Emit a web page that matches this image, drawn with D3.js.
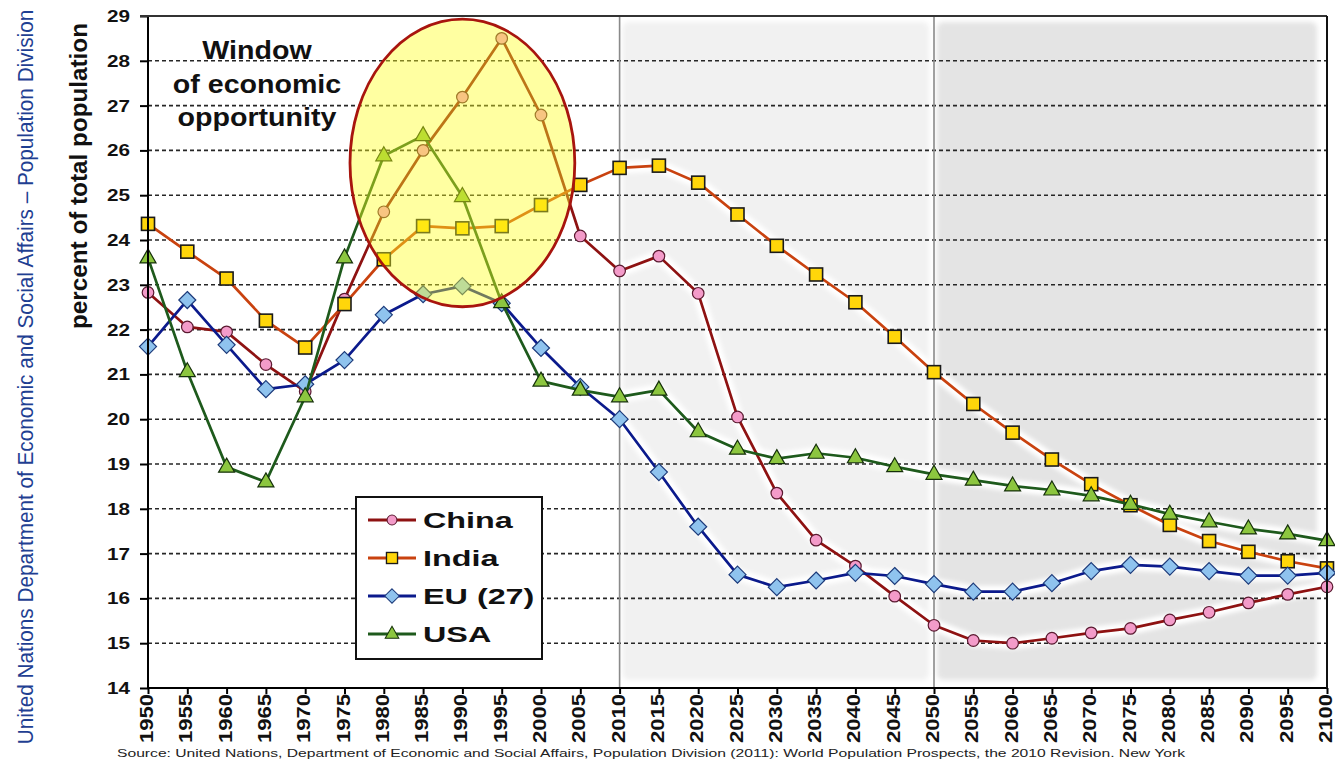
<!DOCTYPE html>
<html>
<head>
<meta charset="utf-8">
<script src="https://cdn.jsdelivr.net/npm/d3@7"></script>
<style>
  html,body{margin:0;padding:0;background:#fff;}
  svg{display:block;}
  text{font-family:"Liberation Sans",Arial,sans-serif;}
</style>
</head>
<body>
<svg id="chart" width="1335" height="763"></svg>
<script>
/* ==========================================================================
   Share of population aged 15-24 (percent of total), 1950-2100.
   Values.
   ========================================================================== */

const years = [1950,1955,1960,1965,1970,1975,1980,1985,1990,1995,2000,2005,2010,2015,2020,
               2025,2030,2035,2040,2045,2050,2055,2060,2065,2070,2075,2080,2085,2090,2095,2100];

const china = [22.83,22.06,21.95,21.22,20.62,22.68,24.63,26.00,27.19,28.50,26.79,24.09,23.31,23.64,22.81,
               20.05,18.35,17.30,16.72,16.05,15.40,15.06,15.00,15.11,15.23,15.33,15.52,15.69,15.90,16.09,16.26];
const india = [24.36,23.74,23.14,22.20,21.60,22.57,23.57,24.31,24.26,24.31,24.78,25.23,25.61,25.66,25.28,
               24.57,23.87,23.23,22.61,21.84,21.05,20.34,19.70,19.10,18.55,18.08,17.64,17.28,17.04,16.83,16.67];
const eu27  = [21.62,22.66,21.66,20.67,20.78,21.32,22.33,22.79,22.97,22.59,21.59,20.72,20.00,18.82,17.60,
               16.53,16.25,16.40,16.57,16.50,16.32,16.15,16.15,16.34,16.61,16.75,16.71,16.61,16.51,16.51,16.57];
const usa   = [23.60,21.06,18.93,18.60,20.50,23.60,25.88,26.33,24.97,22.60,20.85,20.65,20.50,20.65,19.72,
               19.33,19.12,19.24,19.14,18.94,18.77,18.64,18.51,18.42,18.29,18.10,17.88,17.71,17.55,17.44,17.29];

const seriesNames = ["China","India","EU (27)","USA"];
const yTicks = [14,15,16,17,18,19,20,21,22,23,24,25,26,27,28,29];
const periodBreaks = [2010,2050];          // projection periods (shaded)
const windowLines = ["Window","of economic","opportunity"];

const yTitle = "percent of total population";
const sideTitle = "United Nations Department of Economic and Social Affairs \u2013 Population Division";
const sourceText = "Source: United Nations, Department of Economic and Social Affairs, Population Division (2011): World Population Prospects, the 2010 Revision. New York";

/* ----- look of each series ----- */
const styles = [
  { values: china, line:"#8e1212", fill:"#f39bc9", stroke:"#5a1a30", shape:"circle" },
  { values: india, line:"#c9420f", fill:"#ffd60a", stroke:"#1a1a1a", shape:"square" },
  { values: eu27,  line:"#0b1a8c", fill:"#8fc3ee", stroke:"#1c3a7a", shape:"diamond" },
  { values: usa,   line:"#1e5a1c", fill:"#8cc63f", stroke:"#15300a", shape:"triangle" }
];

const svg = d3.select("#chart");
const W = 1335, H = 763;
const m = { left:148, right:1327, top:16, bottom:688 };

const x = d3.scaleLinear().domain([1950,2100]).range([m.left, m.right]);
const y = d3.scaleLinear().domain([14,29]).range([m.bottom, m.top]);

svg.append("rect").attr("width",W).attr("height",H).attr("fill","#fff");

const defs = svg.append("defs");
defs.append("filter").attr("id","soft").attr("x","-5%").attr("y","-5%").attr("width","110%").attr("height","110%")
  .append("feGaussianBlur").attr("stdDeviation",2.5);
defs.append("filter").attr("id","halo").attr("x","-5%").attr("y","-20%").attr("width","110%").attr("height","140%")
  .append("feGaussianBlur").attr("stdDeviation",2.2);

/* ----- shaded projection periods ----- */
const shade = svg.append("g");
shade.append("rect")
  .attr("x", x(periodBreaks[0]) + 3).attr("y", m.top + 6)
  .attr("width", x(periodBreaks[1]) - x(periodBreaks[0]) - 8)
  .attr("height", m.bottom - m.top - 14)
  .attr("rx",6).attr("fill","#f1f1f1").attr("filter","url(#soft)");
shade.append("rect")
  .attr("x", x(periodBreaks[1]) + 3).attr("y", m.top + 6)
  .attr("width", x(2100) - x(periodBreaks[1]) - 13)
  .attr("height", m.bottom - m.top - 14)
  .attr("rx",6).attr("fill","#e4e4e4").attr("filter","url(#soft)");

const lineGen = d3.line().x((d,i) => x(years[i])).y(d => y(d));

/* white glow round the lines (visible on the grey) */
svg.append("g").selectAll("path")
  .data(styles).enter().append("path")
  .attr("d", s => lineGen(s.values))
  .attr("fill","none").attr("stroke","#fff").attr("stroke-width",12)
  .attr("stroke-linejoin","round").attr("opacity",1)
  .attr("filter","url(#halo)");

/* ----- dashed gridlines ----- */
svg.append("g").selectAll("line")
  .data(yTicks.filter(v => v > 14 && v < 29)).enter().append("line")
  .attr("x1", m.left).attr("x2", m.right)
  .attr("y1", d => y(d)).attr("y2", d => y(d))
  .attr("stroke","#262626").attr("stroke-width",1.6).attr("stroke-dasharray","4,3");

/* period dividers */
svg.append("g").selectAll("line")
  .data(periodBreaks).enter().append("line")
  .attr("x1", d => x(d)).attr("x2", d => x(d))
  .attr("y1", m.top).attr("y2", m.bottom)
  .attr("stroke","#8a8a8a").attr("stroke-width",1.6);

/* ----- series ----- */
function marker(sel, s){
  if(s.shape === "circle"){
    sel.append("circle").attr("r",5.8);
  } else if(s.shape === "square"){
    sel.append("rect").attr("x",-6.5).attr("y",-6.5).attr("width",13).attr("height",13);
  } else if(s.shape === "diamond"){
    sel.append("path").attr("d","M0,-8.5L8.5,0L0,8.5L-8.5,0Z");
  } else {
    sel.append("path").attr("d","M0,-9L8,5L-8,5Z");
  }
  sel.selectAll("*").attr("fill", s.fill).attr("stroke", s.stroke)
    .attr("stroke-width", s.shape === "square" ? 1.6 : 1.2);
}

styles.forEach(s => {
  const g = svg.append("g");
  g.append("path")
    .attr("d", lineGen(s.values))
    .attr("fill","none").attr("stroke", s.line).attr("stroke-width",2.7)
    .attr("stroke-linejoin","round");
  g.selectAll("g.pt").data(s.values).enter().append("g")
    .attr("class","pt")
    .attr("transform", (d,i) => "translate(" + x(years[i]) + "," + y(d) + ")")
    .each(function(){ marker(d3.select(this), s); });
});

/* ----- "window of economic opportunity" ellipse ----- */
const ell = { year:1990, value:25.72, spanYears:14.3, spanValue:3.21 };
svg.append("ellipse")
  .attr("cx", x(ell.year)).attr("cy", y(ell.value))
  .attr("rx", x(ell.year + ell.spanYears) - x(ell.year))
  .attr("ry", y(ell.value - ell.spanValue) - y(ell.value))
  .attr("fill","#ffff20").attr("fill-opacity",0.42)
  .attr("stroke","#a8150e").attr("stroke-width",2.8);

const ann = svg.append("g");
windowLines.forEach((t,i) => {
  ann.append("text")
    .attr("transform","translate(257," + (59 + i*33.5) + ") scale(1.1,1)")
    .attr("text-anchor","middle")
    .attr("font-size",26).attr("font-weight","bold").attr("fill","#111")
    .text(t);
});

/* ----- axes and frame ----- */
const yAxis = d3.axisLeft(y).tickValues(yTicks).tickSize(8).tickFormat("");
svg.append("g").attr("transform","translate(" + m.left + ",0)").call(yAxis)
  .call(g => g.selectAll("line,path").attr("stroke","#000").attr("stroke-width",2))
  .call(g => g.select(".domain").attr("d","M0," + m.top + "V" + m.bottom));

const xAxis = d3.axisBottom(x).tickValues(years).tickSize(6).tickFormat("");
svg.append("g").attr("transform","translate(0," + m.bottom + ")").call(xAxis)
  .call(g => g.selectAll("line,path").attr("stroke","#000").attr("stroke-width",2))
  .call(g => g.select(".domain").attr("d","M" + m.left + ",0H" + m.right));

svg.append("line").attr("x1",m.left - 8).attr("x2",m.right).attr("y1",m.top).attr("y2",m.top)
  .attr("stroke","#333").attr("stroke-width",2);
svg.append("line").attr("x1",m.right).attr("x2",m.right).attr("y1",m.top).attr("y2",m.bottom)
  .attr("stroke","#111").attr("stroke-width",2);

/* tick labels */
svg.append("g").selectAll("text")
  .data(yTicks).enter().append("text")
  .attr("x",130).attr("y", d => y(d) + 6)
  .attr("text-anchor","end")
  .attr("font-size",17).attr("font-weight","bold").attr("fill","#111")
  .attr("textLength",23).attr("lengthAdjust","spacingAndGlyphs")
  .text(d => d);

svg.append("g").selectAll("text")
  .data(years).enter().append("text")
  .attr("transform", d => "translate(" + (x(d) + 5) + ",694) rotate(-90)")
  .attr("text-anchor","end")
  .attr("font-size",18).attr("font-weight","bold").attr("fill","#111")
  .attr("textLength",49).attr("lengthAdjust","spacingAndGlyphs")
  .text(d => d);

/* ----- legend ----- */
const leg = svg.append("g");
leg.append("rect").attr("x",356).attr("y",497).attr("width",186).attr("height",162)
  .attr("fill","#fff").attr("stroke","#111").attr("stroke-width",2);
styles.forEach((s,i) => {
  const cy = 520 + i*38;
  const row = leg.append("g");
  row.append("line").attr("x1",368).attr("x2",416).attr("y1",cy).attr("y2",cy)
    .attr("stroke", s.line).attr("stroke-width",3);
  const mk = row.append("g");
  marker(mk, s);
  mk.attr("transform","translate(392," + cy + ") scale(0.85)");
  row.append("text")
    .attr("transform","translate(423," + (cy + 8) + ") scale(1.47,1)")
    .attr("font-size",22).attr("font-weight","bold").attr("fill","#111")
    .text(seriesNames[i]);
});

/* ----- titles and source ----- */
svg.append("text")
  .attr("transform","translate(87,176) rotate(-90)")
  .attr("text-anchor","middle")
  .attr("font-size",23).attr("font-weight","bold").attr("fill","#111")
  .attr("textLength",306).attr("lengthAdjust","spacingAndGlyphs")
  .text(yTitle);

/* side title: narrow look, squeezed with a transform so it fits the height */
const side = svg.append("text")
  .attr("text-anchor","middle")
  .attr("font-size",22).attr("fill","#1f3f92")
  .text(sideTitle);
const sideLen = side.node().getComputedTextLength();
side.attr("transform","translate(33,377) rotate(-90) scale(" + (735 / sideLen) + ",1)");

svg.append("text")
  .attr("x",117).attr("y",757)
  .attr("font-family","'DejaVu Sans',Verdana,sans-serif")
  .attr("font-size",10.5).attr("fill","#222")
  .attr("textLength",1068).attr("lengthAdjust","spacingAndGlyphs")
  .text(sourceText);
</script>
</body>
</html>
